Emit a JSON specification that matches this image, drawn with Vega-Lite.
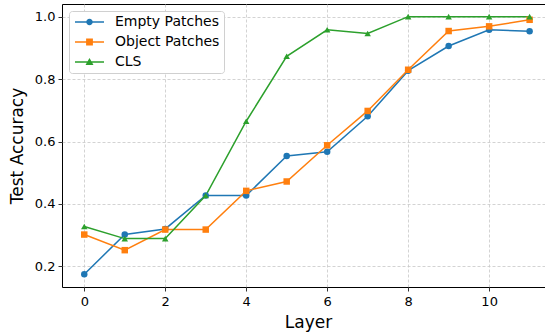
{
  "$schema": "https://vega.github.io/schema/vega-lite/v6.json",
  "width": 483,
  "height": 283,
  "autosize": {"type": "none"},
  "padding": {"left": 62, "top": 4, "right": 0, "bottom": 45},
  "background": "white",
  "config": {
    "font": "DejaVu Sans",
    "view": {"stroke": "#000000", "strokeWidth": 1},
    "axis": {
      "domain": false,
      "grid": true,
      "gridColor": "#c8c8c8",
      "gridDash": [3, 2],
      "gridWidth": 0.8,
      "tickColor": "#000000",
      "tickSize": 4,
      "tickWidth": 0.8,
      "labelFont": "DejaVu Sans",
      "labelFontSize": 13,
      "labelColor": "#000000",
      "titleFont": "DejaVu Sans",
      "titleFontSize": 17,
      "titleFontWeight": "normal",
      "titleColor": "#000000"
    },
    "legend": {
      "labelFont": "DejaVu Sans",
      "labelFontSize": 14,
      "labelColor": "#000000"
    }
  },
  "data": {
    "values": [
      {"layer": 0, "acc": 0.175, "series": "Empty Patches"},
      {"layer": 1, "acc": 0.302, "series": "Empty Patches"},
      {"layer": 2, "acc": 0.32, "series": "Empty Patches"},
      {"layer": 3, "acc": 0.427, "series": "Empty Patches"},
      {"layer": 4, "acc": 0.427, "series": "Empty Patches"},
      {"layer": 5, "acc": 0.554, "series": "Empty Patches"},
      {"layer": 6, "acc": 0.567, "series": "Empty Patches"},
      {"layer": 7, "acc": 0.681, "series": "Empty Patches"},
      {"layer": 8, "acc": 0.827, "series": "Empty Patches"},
      {"layer": 9, "acc": 0.906, "series": "Empty Patches"},
      {"layer": 10, "acc": 0.958, "series": "Empty Patches"},
      {"layer": 11, "acc": 0.953, "series": "Empty Patches"},
      {"layer": 0, "acc": 0.302, "series": "Object Patches"},
      {"layer": 1, "acc": 0.252, "series": "Object Patches"},
      {"layer": 2, "acc": 0.318, "series": "Object Patches"},
      {"layer": 3, "acc": 0.318, "series": "Object Patches"},
      {"layer": 4, "acc": 0.442, "series": "Object Patches"},
      {"layer": 5, "acc": 0.472, "series": "Object Patches"},
      {"layer": 6, "acc": 0.588, "series": "Object Patches"},
      {"layer": 7, "acc": 0.698, "series": "Object Patches"},
      {"layer": 8, "acc": 0.83, "series": "Object Patches"},
      {"layer": 9, "acc": 0.954, "series": "Object Patches"},
      {"layer": 10, "acc": 0.969, "series": "Object Patches"},
      {"layer": 11, "acc": 0.99, "series": "Object Patches"},
      {"layer": 0, "acc": 0.328, "series": "CLS"},
      {"layer": 1, "acc": 0.289, "series": "CLS"},
      {"layer": 2, "acc": 0.289, "series": "CLS"},
      {"layer": 3, "acc": 0.427, "series": "CLS"},
      {"layer": 4, "acc": 0.665, "series": "CLS"},
      {"layer": 5, "acc": 0.873, "series": "CLS"},
      {"layer": 6, "acc": 0.958, "series": "CLS"},
      {"layer": 7, "acc": 0.946, "series": "CLS"},
      {"layer": 8, "acc": 1.0, "series": "CLS"},
      {"layer": 9, "acc": 1.0, "series": "CLS"},
      {"layer": 10, "acc": 1.0, "series": "CLS"},
      {"layer": 11, "acc": 1.0, "series": "CLS"}
    ]
  },
  "encoding": {
    "x": {
      "field": "layer",
      "type": "quantitative",
      "scale": {"domain": [-0.55, 11.38], "nice": false, "zero": false},
      "axis": {"title": "Layer", "values": [0, 2, 4, 6, 8, 10], "format": "d", "labelPadding": 4, "titlePadding": 6, "titleX": 246}
    },
    "y": {
      "field": "acc",
      "type": "quantitative",
      "scale": {"domain": [0.134, 1.0406], "nice": false, "zero": false},
      "axis": {"title": "Test Accuracy", "values": [0.2, 0.4, 0.6, 0.8, 1.0], "format": ".1f", "labelPadding": 3, "titlePadding": 8}
    },
    "color": {
      "field": "series",
      "type": "nominal",
      "scale": {
        "domain": ["Empty Patches", "Object Patches", "CLS"],
        "range": ["#1f77b4", "#ff7f0e", "#2ca02c"]
      },
      "legend": {
        "title": null,
        "orient": "top-left",
        "offset": 7,
        "padding": 4,
        "rowPadding": 6,
        "symbolSize": 100,
        "symbolStrokeWidth": 0,
        "symbolOpacity": 1,
        "labelOffset": 28,
        "strokeColor": "#d0d0d0",
        "fillColor": "#ffffff",
        "cornerRadius": 3,
        "symbolType": {"expr": "datum.value === 'Empty Patches' ? 'M-1,-0.15H4.8V0.15H-1Z M2.55,0A0.65,0.65 0 1,1 1.25,0A0.65,0.65 0 1,1 2.55,0Z' : datum.value === 'Object Patches' ? 'M-1,-0.15H4.8V0.15H-1Z M1.22,-0.68H2.58V0.68H1.22Z' : 'M-1,-0.15H4.8V0.15H-1Z M1.9,-0.8L2.7,0.6H1.1Z'"}
      }
    }
  },
  "layer": [
    {
      "mark": {"type": "line", "strokeWidth": 1.5},
      "encoding": {"detail": {"field": "series"}}
    },
    {
      "transform": [{"filter": "datum.series === 'Empty Patches'"}],
      "mark": {"type": "point", "filled": true, "opacity": 1, "size": 42, "shape": "circle"}
    },
    {
      "transform": [{"filter": "datum.series === 'Object Patches'"}],
      "mark": {"type": "point", "filled": true, "opacity": 1, "size": 42, "shape": "square"}
    },
    {
      "transform": [{"filter": "datum.series === 'CLS'"}],
      "mark": {"type": "point", "filled": true, "opacity": 1, "size": 42, "shape": "triangle-up"}
    }
  ]
}
